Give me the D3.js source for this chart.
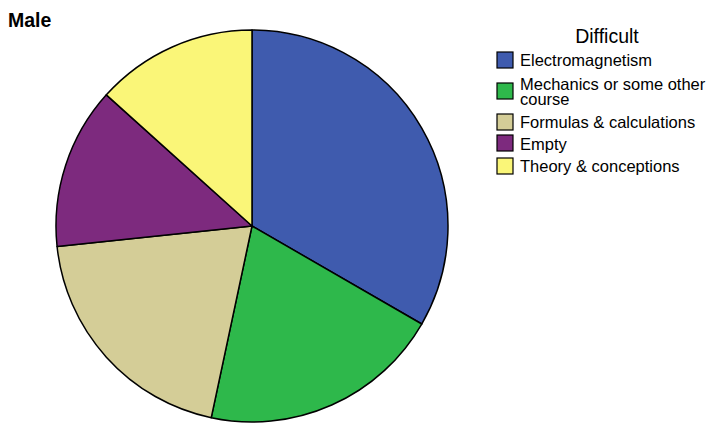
<!DOCTYPE html>
<html><head><meta charset="utf-8">
<script src="https://cdn.jsdelivr.net/npm/d3@7"></script>
<style>body{margin:0;background:#fff}svg{display:block}</style>
</head><body>
<script>
const categories = ["Electromagnetism","Mechanics or some other course","Formulas & calculations","Empty","Theory & conceptions"];
const legendLines = [["Electromagnetism"],["Mechanics or some other","course"],["Formulas & calculations"],["Empty"],["Theory & conceptions"]];
const values = [25, 15, 15, 10, 10];
const colors = ["#3F5BAE","#2EB84B","#D4CD97","#7D2A7E","#FAF678"];
const title = "Male";
const legendTitle = "Difficult";

const W = 709, H = 423;
const svg = d3.select("body").append("svg").attr("width", W).attr("height", H);
svg.append("text").attr("x", 8).attr("y", 27).text(title)
  .attr("font-family","Liberation Sans, Arial, sans-serif").attr("font-weight","bold").attr("font-size",19.5);

const cx = 252, cy = 226, r = 196;
const pie = d3.pie().sort(null).value(d => d)(values);
const arc = d3.arc().innerRadius(0).outerRadius(r);
const g = svg.append("g").attr("transform", `translate(${cx},${cy})`);
g.selectAll("path").data(pie).join("path")
  .attr("d", arc).attr("fill", (d,i) => colors[i])
  .attr("stroke", "#000").attr("stroke-width", 1.5).attr("stroke-linejoin","round");

const lg = svg.append("g").attr("font-family","Liberation Sans, Arial, sans-serif");
lg.append("text").attr("x", 607).attr("y", 43).attr("text-anchor","middle").attr("font-size",19.5).text(legendTitle);
const boxY = [52, 83, 114, 135, 158];
const baseY = [66, 89.5, 128, 150, 172];
categories.forEach((c, i) => {
  lg.append("rect").attr("x", 497).attr("y", boxY[i]).attr("width", 16).attr("height", 16)
    .attr("fill", colors[i]).attr("stroke","#000").attr("stroke-width",1.2);
  const t = lg.append("text").attr("x", 520).attr("y", baseY[i]).attr("font-size", 16.5);
  legendLines[i].forEach((s, j) => {
    t.append("tspan").attr("x", 520).attr("dy", j === 0 ? 0 : 15).text(s);
  });
});
</script>
</body></html>
